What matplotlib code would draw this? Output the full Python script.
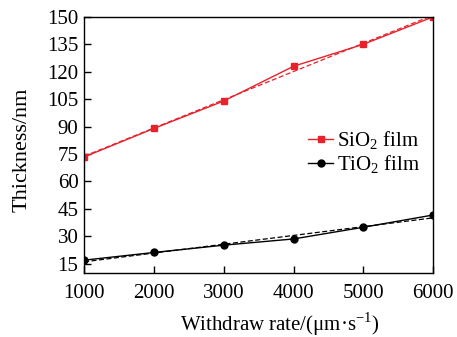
import numpy as np
import matplotlib
matplotlib.use("Agg")
import matplotlib.pyplot as plt

plt.rcParams["font.family"] = ["Liberation Serif", "DejaVu Serif"]
plt.rcParams["mathtext.fontset"] = "custom"
plt.rcParams["mathtext.rm"] = "Liberation Serif"

rate = [1000, 2000, 3000, 4000, 5000, 6000]
sio2 = [73.4, 89, 104, 123, 135, 150]
tio2 = [17, 21.2, 25.2, 28.6, 35, 41.7]
yticks = [15, 30, 45, 60, 75, 90, 105, 120, 135, 150]

red = "#e8222b"

fig = plt.figure(figsize=(4.57, 3.37), dpi=100)
ax = fig.add_axes([0.184, 0.19, 0.764, 0.76])

ax.plot(rate, sio2, color=red, lw=1.0, marker="s", ms=5, label=r"SiO$_2$ film")
ax.plot(rate, tio2, color="black", lw=1.0, marker="o", ms=5, label=r"TiO$_2$ film")

# linear fits (dashed)
xs = np.array(rate)
for ys, c in [(sio2, red), (tio2, "black")]:
    k, b = np.polyfit(xs, ys, 1)
    ax.plot(xs, k * xs + b, color=c, lw=0.9, ls=(0, (4, 2)))

ax.set_xlim(1000, 6000)
ax.set_ylim(10, 150)
ax.set_yticks(yticks)
ax.set_xticks(rate)
ax.tick_params(direction="in", length=5, labelsize=15, width=1)
ax.tick_params(axis="x", pad=8)
ax.tick_params(axis="y", pad=4)
for s in ax.spines.values():
    s.set_linewidth(1.0)

ax.set_xlabel("Withdraw rate/(μm·s$^{-1}$)", fontsize=15)
ax.xaxis.set_label_coords(0.56, -0.145)
ax.set_ylabel("Thickness/nm", fontsize=16)
ax.yaxis.set_label_coords(-0.15, 0.48)

ax.legend(loc="center right", bbox_to_anchor=(1.0, 0.47), frameon=False,
          fontsize=15, handlelength=1.2, handletextpad=0.2, labelspacing=0.05,
          borderaxespad=0.2)

fig.savefig("out.png", dpi=100)
